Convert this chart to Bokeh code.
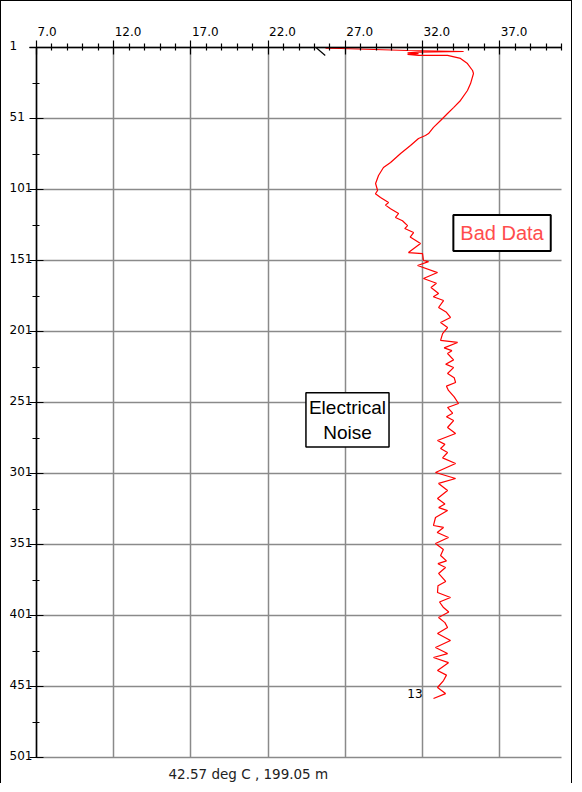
from bokeh.plotting import figure
from bokeh.models import Range1d, FixedTicker, Label, ColumnDataSource
from bokeh.core.properties import value
from bokeh.embed import file_html
from bokeh.resources import INLINE

# ---- data: temperature (deg C) logged against depth ----
temp_c = [25.72, 26.69, 31.03, 34.66, 31.74, 31.03, 31.74, 31.03, 31.74, 33.62,
          34.46, 34.91, 35.24, 35.30, 35.11, 34.91, 34.46, 34.01, 33.62, 33.17,
          32.71, 32.39, 32.19, 31.74, 31.22, 30.58, 29.93, 29.47, 29.15, 28.96,
          29.09, 28.95, 29.28, 29.80, 29.60, 29.93, 30.45, 30.25, 30.70, 31.03,
          30.85, 31.42, 31.20, 31.87, 31.50, 31.09, 32.00,
          32.06, 32.39, 31.68, 32.97, 32.06, 32.90, 32.55, 33.04, 32.70, 33.36,
          33.04, 33.55, 33.81, 33.17, 33.62, 33.30, 33.17, 34.27, 33.40, 33.90,
          33.62, 34.01, 33.50, 34.01, 33.62, 34.05, 34.14, 33.55, 33.68, 34.05,
          34.33, 33.62, 33.95, 33.55, 34.01, 33.62, 34.14, 32.97, 33.45, 33.17,
          33.62, 33.30, 34.14, 32.84, 34.14, 33.04, 33.62, 32.97, 33.45, 33.05,
          33.62, 32.84, 32.71, 33.36, 32.95, 33.68, 32.84, 33.35, 33.17, 33.55,
          33.00, 33.49, 33.04, 33.50, 33.00, 32.97, 33.81, 33.10, 33.36, 33.70,
          33.04, 33.45, 33.62, 32.97, 33.81, 32.84, 33.62, 32.71, 33.68, 32.97,
          33.55, 33.36, 32.97, 33.49, 32.71]
depth_m = [1.4, 1.7, 3.1, 3.8, 4.3, 4.8, 5.3, 5.9, 6.6, 6.6,
           8.7, 12.3, 17.2, 19.3, 26.4, 31.3, 38.3, 43.3, 47.5, 52.4,
           57.3, 61.6, 63.0, 65.1, 70.0, 75.6, 82.0, 85.5, 91.1, 96.8,
           101.7, 104.0, 106.6, 110.2, 112.0, 114.5, 117.9, 120.7, 123.0, 126.4,
           128.5, 131.3, 134.5, 139.0, 142.0, 145.4, 146.1,
           151.0, 151.8, 154.5, 159.5, 163.7, 167.0, 170.0, 174.2, 176.5, 179.2,
           184.1, 187.5, 191.1, 194.7, 198.2, 202.5, 207.3, 208.7, 212.5, 214.5,
           216.5, 221.0, 224.0, 226.4, 230.6, 233.5, 236.9, 239.5, 242.5, 247.0,
           251.7, 254.5, 258.5, 261.0, 263.7, 268.6, 272.8, 277.8, 280.5, 283.4,
           286.2, 290.0, 294.0, 300.3, 304.5, 308.0, 313.0, 318.6, 322.5, 325.0,
           327.1, 332.0, 337.6, 339.0, 342.5, 346.1, 350.3, 354.5, 358.7, 362.5,
           364.5, 367.2, 371.4, 377.0, 380.0, 384.8, 388.3, 391.5, 395.4, 398.5,
           402.4, 406.0, 409.5, 413.7, 418.6, 423.5, 427.8, 430.6, 434.2, 439.7,
           443.0, 446.8, 451.7, 456.0, 459.5]

# short black trace at the surface
ref_temp = [25.1, 25.7]
ref_depth = [1.0, 6.6]

temp_min, temp_max = 7.0, 41.0
depth_top, depth_bottom = 1, 501

temp_ticks = [7, 12, 17, 22, 27, 32, 37]
temp_tick_labels = ["7.0", "12.0", "17.0", "22.0", "27.0", "32.0", "37.0"]
depth_ticks = [1, 51, 101, 151, 201, 251, 301, 351, 401, 451, 501]
depth_tick_labels = ["1", "51", "101", "151", "201", "251", "301", "351", "401", "451", "501"]

end_marker_label = "13"
end_marker_temp, end_marker_depth = 32.0, 456.0

noise_note = "Electrical\nNoise"
noise_temp, noise_depth = 27.14, 263.3
bad_note = "Bad Data"
bad_temp, bad_depth = 37.15, 131.6

readout = "42.57 deg C , 199.05 m"

# ---- layout (pixels inside the bordered page area) ----
W, H = 572, 783
FRAME_L, FRAME_T = 8, 8            # canvas px where the drawing frame starts
PLOT_L, PLOT_R = 35, 560           # canvas px of temp_min / temp_max
PLOT_T, PLOT_B = 46, 756           # canvas px of depth_top / depth_bottom

kx = (PLOT_R - PLOT_L) / (temp_max - temp_min)
ky = (PLOT_B - PLOT_T) / (depth_bottom - depth_top)
x_start = temp_min - (PLOT_L - FRAME_L) / kx
x_end = temp_max + (W - PLOT_R) / kx
y_top = depth_top - (PLOT_T - FRAME_T) / ky
y_bot = depth_bottom + (H - PLOT_B) / ky

AXIS_FONT = "DejaVu Sans"

p = figure(width=W, height=H,
           x_range=Range1d(x_start, x_end),
           y_range=Range1d(y_bot, y_top),
           x_axis_location="above", y_axis_location="left",
           output_backend="svg", toolbar_location=None,
           min_border_left=FRAME_L, min_border_right=0,
           min_border_top=FRAME_T, min_border_bottom=0)
p.styles = {"border-left": "1px solid black", "border-top": "1px solid black",
            "border-right": "1px solid black"}
p.outline_line_color = None
p.background_fill_color = "white"
p.border_fill_color = "white"

minor_temp = [t for t in range(int(temp_min) + 1, int(temp_max) + 1) if t not in temp_ticks]
minor_depth = [d + 25 for d in depth_ticks[:-1]]

xax = p.xaxis[0]
yax = p.yaxis[0]
xax.ticker = FixedTicker(ticks=temp_ticks, minor_ticks=minor_temp)
yax.ticker = FixedTicker(ticks=depth_ticks, minor_ticks=minor_depth)
xax.fixed_location = depth_top
yax.fixed_location = temp_min
xax.bounds = (temp_min - 7 / kx, temp_max)
yax.bounds = (depth_top, depth_bottom)
xax.major_label_overrides = {t: "" for t in temp_ticks}
yax.major_label_overrides = {t: "" for t in depth_ticks}

for ax in (xax, yax):
    ax.axis_line_color = "black"
    ax.axis_line_width = 1.5
    ax.major_tick_line_color = "black"
    ax.major_tick_line_width = 1.2
    ax.minor_tick_line_color = "black"
    ax.minor_tick_line_width = 1.2
    ax.major_tick_in = 7
    ax.major_tick_out = 7
    ax.minor_tick_in = 3
    ax.minor_tick_out = 4
    ax.major_label_text_font_size = "0px"
    ax.major_label_standoff = 0

p.xgrid.ticker = FixedTicker(ticks=temp_ticks)
p.ygrid.ticker = FixedTicker(ticks=depth_ticks)
p.xgrid.cross_bounds = (depth_top, depth_bottom)
p.ygrid.cross_bounds = (temp_min, temp_max)
p.grid.grid_line_color = "#8a8a8a"
p.grid.grid_line_width = 1.5

# traces
p.line(ref_temp, ref_depth, line_color="black", line_width=1.2)
p.line(temp_c, depth_m, line_color="#ff0000", line_width=1.2)

# tick labels, left-aligned as in the original logging software
top_src = ColumnDataSource(dict(x=temp_ticks, y=[depth_top] * len(temp_ticks), t=temp_tick_labels))
p.text(x="x", y="y", text="t", source=top_src, x_offset=1, y_offset=-16,
       text_align="left", text_baseline="alphabetic",
       text_font=value(AXIS_FONT), text_font_size="12px", text_color="black")
left_src = ColumnDataSource(dict(x=[temp_min] * len(depth_ticks), y=depth_ticks, t=depth_tick_labels))
p.text(x="x", y="y", text="t", source=left_src, x_offset=-(PLOT_L - FRAME_L), y_offset=-2,
       text_align="left", text_baseline="alphabetic",
       text_font=value(AXIS_FONT), text_font_size="12px", text_color="black")

p.text(x=[end_marker_temp], y=[end_marker_depth], text=[end_marker_label],
       text_align="right", text_baseline="middle",
       text_font=value(AXIS_FONT), text_font_size="12px", text_color="black")

p.text(x=[temp_min], y=[depth_bottom], text=[readout], x_offset=132, y_offset=16,
       text_align="left", text_baseline="alphabetic",
       text_font=value(AXIS_FONT), text_font_size="13.5px", text_color="#222222")

p.add_layout(Label(x=bad_temp, y=bad_depth, text=bad_note,
                   text_align="center", text_baseline="middle",
                   text_font="Liberation Sans", text_font_size="20px", text_color="#ff4d4d",
                   border_line_color="black", border_line_width=2,
                   background_fill_color="white", padding=7))

p.add_layout(Label(x=noise_temp, y=noise_depth, text=noise_note,
                   text_align="center", text_baseline="middle",
                   text_font="Liberation Sans", text_font_size="19px", text_color="black",
                   border_line_color="black", border_line_width=1.5,
                   background_fill_color="white",
                   padding=dict(left=3, right=3, top=4, bottom=4)))

open("out.html", "w").write(file_html(p, INLINE))
